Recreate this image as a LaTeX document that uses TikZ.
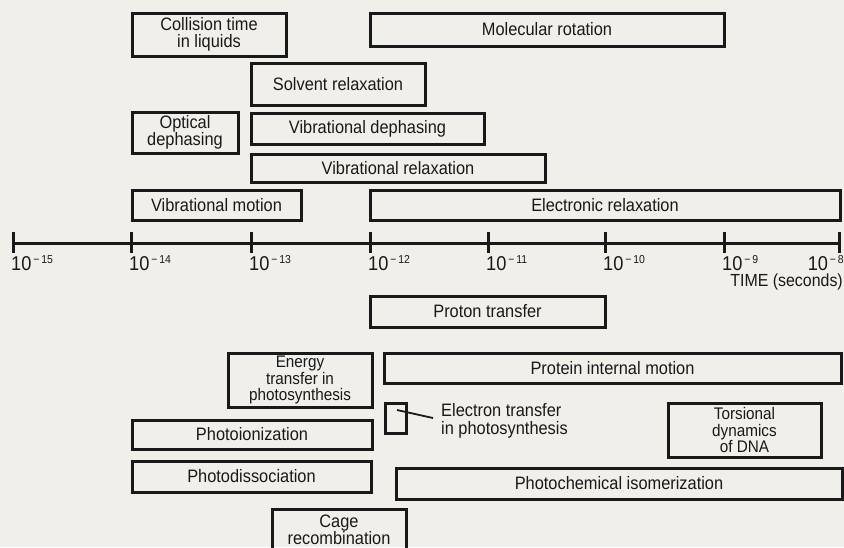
\documentclass[tikz,border=0pt]{standalone}
\usepackage{fontspec}
\setmainfont{Liberation Sans}[FakeStretch=0.91]
\definecolor{paper}{RGB}{240,239,234}
\definecolor{ink}{RGB}{25,25,25}
\newcommand{\tlab}[1]{10\raisebox{7pt}{\fontsize{11.5}{12}\selectfont \,−\,#1}}
% name, x1, y1, x2, y2, text  (pixel coordinates, y downward)
\newcommand{\bx}[6]{\node[box, minimum width={#4-#2}, minimum height={#5-#3}] (#1) at ({(#2+#4)/2},{(#3+#5)/2}) {#6};}
\newcommand{\bxs}[6]{\node[box, font=\fontsize{16.8}{16.6}\selectfont, minimum width={#4-#2}, minimum height={#5-#3}] (#1) at ({(#2+#4)/2},{(#3+#5)/2}) {#6};}
\begin{document}
\begin{tikzpicture}[x=1pt,y=-1pt,
  box/.style={draw=ink, line width=3pt, inner sep=0pt, align=center, text=ink,
              font=\fontsize{18}{17.6}\selectfont},
  axis/.style={draw=ink, line width=3pt},
  tick/.style={draw=ink, line width=3pt},
  ticklab/.style={text=ink, inner sep=0pt, font=\fontsize{20}{20}\selectfont},
  lbl/.style={text=ink, inner sep=0pt, align=left, font=\fontsize{18}{18.5}\selectfont},
  leader/.style={draw=ink, line width=1.8pt}]
\fill[paper] (0,0) rectangle (844,547);
\useasboundingbox (0,0) rectangle (844,547);
\clip (0,0) rectangle (844,547);

% upper boxes
\bx{coll}{132}{13}{286}{56}{Collision time\\in liquids}
\bx{molrot}{370}{13}{724}{46}{Molecular rotation}
\bx{solv}{251}{63}{425}{105}{Solvent relaxation}
\bx{optdeph}{132}{112}{238}{153}{Optical\\dephasing}
\bx{vibdeph}{251}{113}{484}{144}{Vibrational dephasing}
\bx{vibrel}{251}{154}{545}{182}{Vibrational relaxation}
\bx{vibmot}{132}{190}{301}{220}{Vibrational motion}
\bx{elrel}{370}{190}{840}{220}{Electronic relaxation}

% axis
\coordinate (a0) at (13,243);
\coordinate (a7) at (839,243);
\draw[axis] (a0) -- (a7);
\foreach \x/\n in {13/0,131/1,251/2,370/3,488/4,605/5,724/6,839/7}{
  \coordinate (t\n a) at (\x,232);
  \coordinate (t\n b) at (\x,253);
  \draw[tick] (t\n a) -- (t\n b);
}
\node[ticklab, anchor=base west] (l15) at (11,270) {\tlab{15}};
\node[ticklab, anchor=base west] (l14) at (129,270) {\tlab{14}};
\node[ticklab, anchor=base west] (l13) at (249,270) {\tlab{13}};
\node[ticklab, anchor=base west] (l12) at (368,270) {\tlab{12}};
\node[ticklab, anchor=base west] (l11) at (486,270) {\tlab{11}};
\node[ticklab, anchor=base west] (l10) at (603,270) {\tlab{10}};
\node[ticklab, anchor=base west] (l9) at (722,270) {\tlab{9}};
\node[ticklab, anchor=base east] (l8) at (844,270) {\tlab{8}};
\node[text=ink, inner sep=0pt, anchor=base east, font=\fontsize{17.5}{18}\selectfont] (time) at (843,286) {TIME (seconds)};

% lower boxes
\bx{proton}{370}{296}{605}{327}{Proton transfer}
\bxs{energy}{228}{353}{372}{407}{Energy\\transfer in\\photosynthesis}
\bx{protein}{384}{353}{841}{383}{Protein internal motion}
\bx{etbox}{385}{403}{406}{433}{}
\node[lbl, anchor=north west] (etlab) at (441,403) {Electron transfer\\in photosynthesis};
\coordinate (e1) at (397,410);
\coordinate (e2) at (433,418);
\draw[leader] (e1) -- (e2);
\bxs{dna}{668}{403}{821}{457}{Torsional\\dynamics\\of DNA}
\bx{photoion}{132}{420}{372}{449}{Photoionization}
\bx{photodis}{132}{461}{371}{492}{Photodissociation}
\bx{isom}{396}{468}{842}{499}{Photochemical isomerization}
\bx{cage}{272}{509}{406}{565}{}
\node[text=ink, inner sep=0pt, align=center, anchor=south, font=\fontsize{18}{17.6}\selectfont] (cagetxt) at (339,545) {Cage\\recombination};
\end{tikzpicture}
\end{document}
